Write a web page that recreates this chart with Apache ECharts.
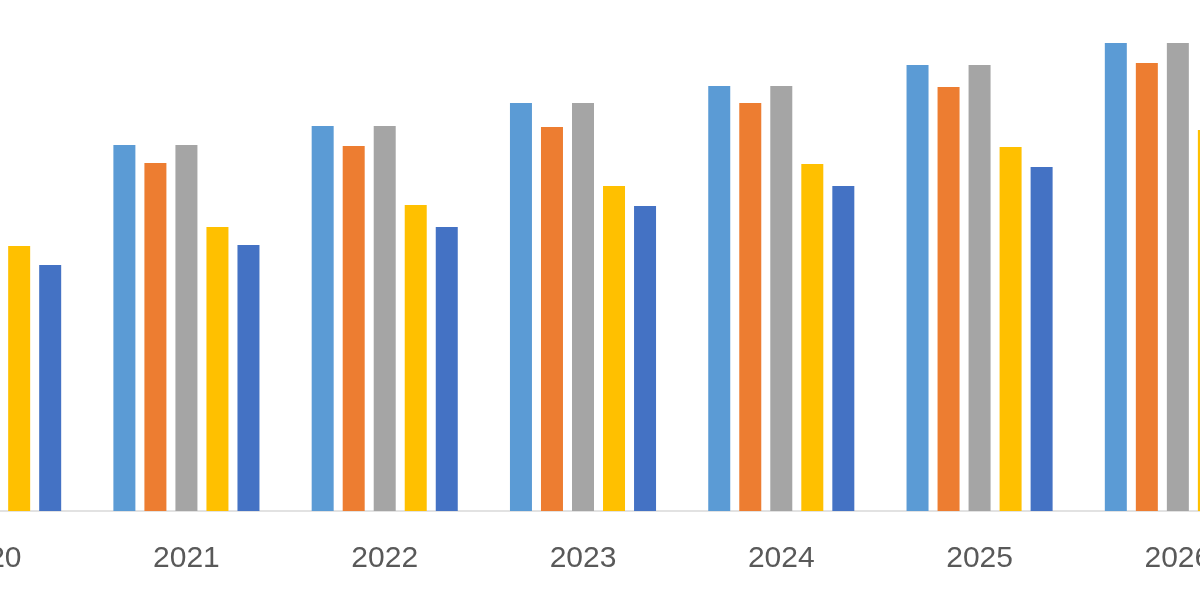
<!DOCTYPE html>
<html>
<head>
<meta charset="utf-8">
<script src="https://cdn.jsdelivr.net/npm/echarts@6/dist/echarts.min.js"></script>
<style>
html,body{margin:0;padding:0;background:#fff;overflow:hidden}
#wrap{position:relative;width:1200px;height:600px;overflow:hidden}
#c{position:absolute;left:-111px;top:0;width:1388px;height:600px}
</style>
</head>
<body>
<div id="wrap"><div id="c"></div></div>
<script>
const categories = ['2020', '2021', '2022', '2023', '2024', '2025', '2026'];
const seriesA = [345, 366, 385, 408, 425, 446, 468];
const seriesB = [327, 348, 365, 384, 408, 424, 448];
const seriesC = [345, 366, 385, 408, 425, 446, 468];
const seriesD = [265, 284, 306, 325, 347, 364, 381];
const seriesE = [246, 266, 284, 305, 325, 344, 361];
const colors = ['#5B9BD5', '#ED7D31', '#A5A5A5', '#FFC000', '#4472C4'];

const chart = echarts.init(document.getElementById('c'));
const all = [seriesA, seriesB, seriesC, seriesD, seriesE];
chart.setOption({
  animation: false,
  grid: { left: 0, right: 0, top: 0, bottom: 89, containLabel: false },
  xAxis: {
    type: 'category',
    data: categories,
    axisLine: { show: true, lineStyle: { color: '#D9D9D9', width: 1.5 } },
    axisTick: { show: false },
    axisLabel: { color: '#595959', fontSize: 30, fontFamily: 'Liberation Sans, Arial, sans-serif', margin: 33 }
  },
  yAxis: { type: 'value', min: 0, max: 511, show: false, splitLine: { show: false } },
  series: all.map((d, i) => ({
    type: 'bar',
    data: d,
    barWidth: 22,
    barGap: '41%',
    itemStyle: { color: colors[i] }
  }))
});
</script>
</body>
</html>
